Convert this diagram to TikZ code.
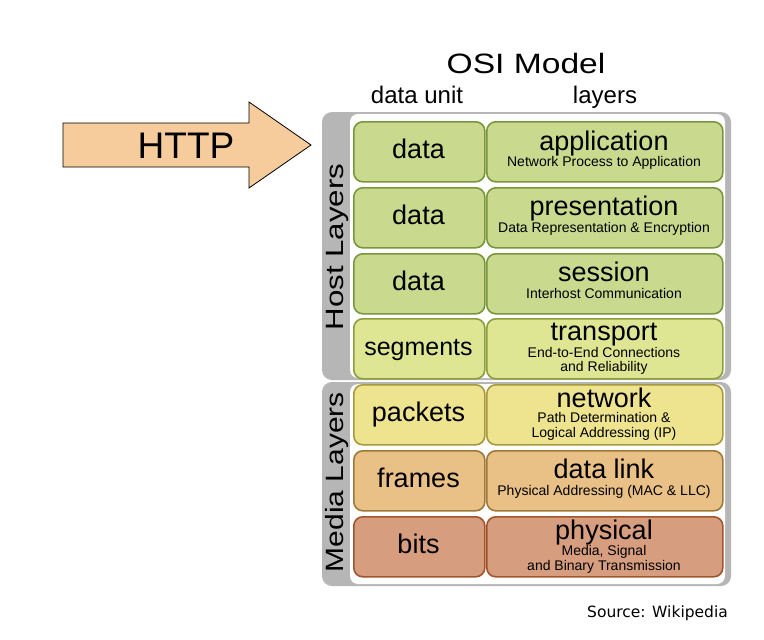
\documentclass[tikz,border=0pt]{standalone}
\usepackage{fontspec}
\setmainfont{Liberation Sans}
\newfontfamily\srcfont{DejaVu Sans}
\usepackage{graphicx}
\definecolor{panelgray}{RGB}{182,182,182}
\definecolor{grnF}{RGB}{201,218,143}
\definecolor{grnD}{RGB}{122,150,60}
\definecolor{trnF}{RGB}{222,230,148}
\definecolor{trnD}{RGB}{138,158,60}
\definecolor{netF}{RGB}{238,227,142}
\definecolor{netD}{RGB}{168,152,62}
\definecolor{dlF}{RGB}{233,193,134}
\definecolor{dlD}{RGB}{160,120,55}
\definecolor{phF}{RGB}{214,158,127}
\definecolor{phD}{RGB}{160,85,45}
\definecolor{arrF}{RGB}{247,204,156}
\newcommand\fsz[1]{\fontsize{#1}{#1}\selectfont}
\begin{document}
\begin{tikzpicture}[x=1pt,y=-1pt,
  unitbox/.style={rounded corners=9pt, line width=1.6pt, minimum width=131pt, minimum height=60pt, inner sep=0pt, anchor=north west},
  layerbox/.style={rounded corners=9pt, line width=1.6pt, minimum width=236pt, minimum height=60pt, inner sep=0pt, anchor=north west},
  grn/.style={fill=grnF, draw=grnD},
  trn/.style={fill=trnF, draw=trnD},
  net/.style={fill=netF, draw=netD},
  dl/.style={fill=dlF, draw=dlD},
  ph/.style={fill=phF, draw=phD},
  unittxt/.style={anchor=base, inner sep=0pt, font=\fsz{27}},
  nametxt/.style={anchor=base, inner sep=0pt, font=\fsz{27}},
  subtxt/.style={anchor=base, inner sep=0pt, font=\fsz{14}},
  head/.style={anchor=base, inner sep=0pt, font=\fsz{24}},
  side/.style={inner sep=0pt, rotate=90, font=\fsz{25}}
]
\useasboundingbox[fill=white] (0,0) rectangle (764,640);

% titles
\node[anchor=base, inner sep=0pt, font=\fsz{28}] (title) at (526,73) {\scalebox{1.2}[1]{OSI Model}};
\node[head] (hunit) at (417,103) {data unit};
\node[head] (hlay) at (605,103) {layers};

% HTTP arrow
\draw[fill=arrF, draw=black, line width=0.8pt, line join=miter]
  (63,123) -- (249,123) -- (249,102) -- (311,145) -- (249,188) -- (249,167) -- (63,167) -- cycle;
\node[anchor=base, inner sep=0pt, font=\fsz{37}] (http) at (186,158) {HTTP};

% panels
\fill[panelgray, rounded corners=10pt] (322,112) rectangle (731,380);
\fill[white, rounded corners=8pt] (350,114) rectangle (725,378);
\fill[panelgray, rounded corners=10pt] (322,382) rectangle (731,586);
\fill[white, rounded corners=8pt] (350,384) rectangle (725,584);
\node[side] (host) at (337,247) {\scalebox{1.25}[1]{Host Layers}};
\node[side] (media) at (337,482) {\scalebox{1.2}[1]{Media Layers}};

% row 1 application
\node[unitbox, grn] (u1) at (353,121) {};
\node[layerbox, grn] (l1) at (486,121) {};
\node[unittxt] (u1t) at (418.5,158) {data};
\node[nametxt] (l1t) at (604,150) {application};
\node[subtxt] (l1s) at (604,166) {Network Process to Application};

% row 2 presentation
\node[unitbox, grn] (u2) at (353,187) {};
\node[layerbox, grn] (l2) at (486,187) {};
\node[unittxt] (u2t) at (418.5,224) {data};
\node[nametxt] (l2t) at (604,215) {presentation};
\node[subtxt] (l2s) at (604,232) {Data Representation \& Encryption};

% row 3 session
\node[unitbox, grn] (u3) at (353,253) {};
\node[layerbox, grn] (l3) at (486,253) {};
\node[unittxt] (u3t) at (418.5,290) {data};
\node[nametxt] (l3t) at (604,281) {session};
\node[subtxt] (l3s) at (604,298) {Interhost Communication};

% row 4 transport
\node[unitbox, trn] (u4) at (353,318) {};
\node[layerbox, trn] (l4) at (486,318) {};
\node[unittxt, font=\fsz{25}] (u4t) at (418.5,355) {segments};
\node[nametxt] (l4t) at (604,340) {transport};
\node[subtxt] (l4s) at (604,357) {End-to-End Connections};
\node[subtxt] (l4s2) at (604,371) {and Reliability};

% row 5 network
\node[unitbox, net] (u5) at (353,384) {};
\node[layerbox, net] (l5) at (486,384) {};
\node[unittxt] (u5t) at (418.5,421) {packets};
\node[nametxt] (l5t) at (604,407) {network};
\node[subtxt] (l5s) at (604,422) {Path Determination \&};
\node[subtxt] (l5s2) at (604,437) {Logical Addressing (IP)};

% row 6 data link
\node[unitbox, dl] (u6) at (353,450) {};
\node[layerbox, dl] (l6) at (486,450) {};
\node[unittxt] (u6t) at (418.5,487) {frames};
\node[nametxt] (l6t) at (604,478) {data link};
\node[subtxt] (l6s) at (604,495) {Physical Addressing (MAC \& LLC)};

% row 7 physical
\node[unitbox, ph] (u7) at (353,516) {};
\node[layerbox, ph] (l7) at (486,516) {};
\node[unittxt] (u7t) at (418.5,553) {bits};
\node[nametxt] (l7t) at (604,539) {physical};
\node[subtxt] (l7s) at (604,555) {Media, Signal};
\node[subtxt] (l7s2) at (604,570) {and Binary Transmission};

% source
\node[anchor=base, inner sep=0pt, font=\srcfont\fsz{15.5}] (src) at (657.5,617) {Source: Wikipedia};
\end{tikzpicture}
\end{document}
